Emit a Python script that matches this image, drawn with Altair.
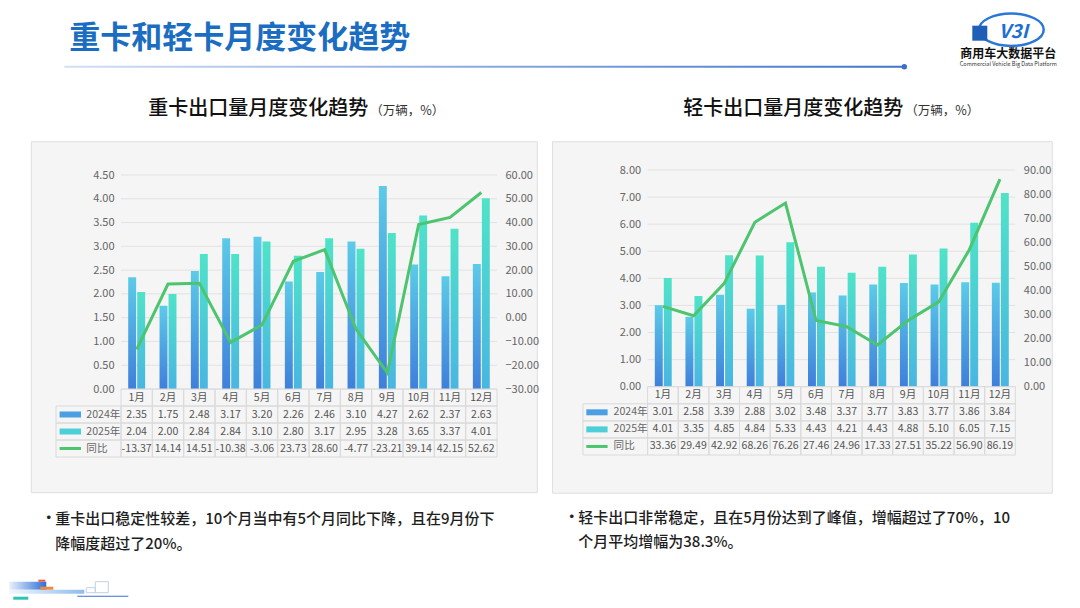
import altair as alt
import pandas as pd

FONT = "Noto Sans CJK SC"

# ---------------- data ----------------
months = ["1月", "2月", "3月", "4月", "5月", "6月", "7月", "8月", "9月", "10月", "11月", "12月"]

heavy_2024 = [2.35, 1.75, 2.48, 3.17, 3.20, 2.26, 2.46, 3.10, 4.27, 2.62, 2.37, 2.63]
heavy_2025 = [2.04, 2.00, 2.84, 2.84, 3.10, 2.80, 3.17, 2.95, 3.28, 3.65, 3.37, 4.01]
heavy_yoy = [-13.37, 14.14, 14.51, -10.38, -3.06, 23.73, 28.60, -4.77, -23.21, 39.14, 42.15, 52.62]

light_2024 = [3.01, 2.58, 3.39, 2.88, 3.02, 3.48, 3.37, 3.77, 3.83, 3.77, 3.86, 3.84]
light_2025 = [4.01, 3.35, 4.85, 4.84, 5.33, 4.43, 4.21, 4.43, 4.88, 5.10, 6.05, 7.15]
light_yoy = [33.36, 29.49, 42.92, 68.26, 76.26, 27.46, 24.96, 17.33, 27.51, 35.22, 56.90, 86.19]

heavy_left_ticks = [0, 0.5, 1.0, 1.5, 2.0, 2.5, 3.0, 3.5, 4.0, 4.5]
heavy_right_ticks = [-30, -20, -10, 0, 10, 20, 30, 40, 50, 60]
light_left_ticks = [0, 1, 2, 3, 4, 5, 6, 7, 8]
light_right_ticks = [0, 10, 20, 30, 40, 50, 60, 70, 80, 90]

row_keys = ["hdr", "y24", "y25", "yoy"]
row_labels = ["2024年", "2025年", "同比"]

main_title = "重卡和轻卡月度变化趋势"
heavy_title = "重卡出口量月度变化趋势"
light_title = "轻卡出口量月度变化趋势"
unit_text = "（万辆，%）"
heavy_note = ["重卡出口稳定性较差，10个月当中有5个月同比下降，且在9月份下", "降幅度超过了20%。"]
light_note = ["轻卡出口非常稳定，且在5月份达到了峰值，增幅超过了70%，10", "个月平均增幅为38.3%。"]

# ---------------- styling helpers ----------------
ONE = pd.DataFrame({"k": [0]})


def grad(c0, c1, horizontal=False):
    stops = [alt.GradientStop(color=c0, offset=0), alt.GradientStop(color=c1, offset=1)]
    if horizontal:
        return alt.LinearGradient(gradient="linear", stops=stops, x1=0, y1=0, x2=1, y2=0)
    return alt.LinearGradient(gradient="linear", stops=stops, x1=0, y1=1, x2=0, y2=0)


G24 = grad("#3f7fdb", "#5ccbe8")
G25 = grad("#49b6e2", "#4fe3c8")
LINE_COLOR = "#4dc46f"
TFS = 10.6  # table font size


def text_at(f, s, px, py, size, color, weight="normal", align="left", baseline="middle", style="normal", font=FONT):
    return alt.Chart(pd.DataFrame({"t": [s]})).mark_text(
        align=align, baseline=baseline, fontSize=size, color=color,
        font=font, fontWeight=weight, fontStyle=style
    ).encode(x=alt.value(px - f[0]), y=alt.value(py - f[1]), text="t:N")


def rect_at(f, px1, py1, px2, py2, **mk):
    return alt.Chart(ONE).mark_rect(**mk).encode(
        x=alt.value(px1 - f[0]), x2=alt.value(px2 - f[0]),
        y=alt.value(py1 - f[1]), y2=alt.value(py2 - f[1]))


def point_at(f, px, py, **mk):
    return alt.Chart(ONE).mark_point(**mk).encode(x=alt.value(px - f[0]), y=alt.value(py - f[1]))


def panel(f, W, H, yrng, ymax, lticks, rmin, rmax, rticks, trng, v24, v25, yoy,
          legend_x0, sw_x0, sw_x1, label_x, before, after):
    xsc = alt.Scale(type="band", domain=months, paddingInner=0, paddingOuter=0)
    x_band = alt.X("month:N", scale=xsc, axis=None)
    x_mid = alt.X("month:N", scale=xsc, axis=None, bandPosition=0.5)

    ysc = alt.Scale(domain=[0, ymax], range=yrng, nice=False, zero=False)
    y_left = alt.Y("value:Q", scale=ysc, axis=alt.Axis(
        orient="left", values=lticks, format=".2f", grid=False, domain=False, ticks=False,
        labelPadding=7, labelColor="#666666", labelFontSize=11, labelFont=FONT, title=None, zindex=2))

    grid = alt.Chart(pd.DataFrame({"value": lticks})).mark_rule(
        color="#e2e2e2", strokeWidth=1).encode(y=y_left, x=alt.value(0), x2=alt.value(W))

    bdf = pd.DataFrame({"month": months * 2, "year": ["2024"] * 12 + ["2025"] * 12, "value": v24 + v25})
    xoff = alt.XOffset("year:N", scale=alt.Scale(type="band", domain=["2024", "2025"],
                                                 paddingInner=0.12, paddingOuter=0.8))
    b24 = alt.Chart(bdf).transform_filter(alt.datum.year == "2024").mark_bar(fill=G24).encode(
        x=x_band, xOffset=xoff, y=y_left)
    b25 = alt.Chart(bdf).transform_filter(alt.datum.year == "2025").mark_bar(fill=G25).encode(
        x=x_band, xOffset=xoff, y=y_left)
    bars = alt.layer(grid, b24, b25)

    ldf = pd.DataFrame({"month": months, "yoy": yoy, "idx": list(range(12))})
    rsc = alt.Scale(domain=[rmin, rmax], range=yrng, nice=False, zero=False)
    line = alt.Chart(ldf).mark_line(color=LINE_COLOR, strokeWidth=3).encode(
        x=x_mid,
        y=alt.Y("yoy:Q", scale=rsc, axis=alt.Axis(
            orient="right", values=rticks, format=".2f", grid=False, domain=False, ticks=False,
            labelPadding=8, labelColor="#666666", labelFontSize=11, labelFont=FONT, title=None, zindex=2)),
        order=alt.Order("idx:Q"))

    recs = []
    for i, m in enumerate(months):
        recs.append({"month": m, "row": "hdr", "label": m})
        recs.append({"month": m, "row": "y24", "label": f"{v24[i]:.2f}"})
        recs.append({"month": m, "row": "y25", "label": f"{v25[i]:.2f}"})
        recs.append({"month": m, "row": "yoy", "label": f"{yoy[i]:.2f}"})
    tdf = pd.DataFrame(recs)
    rsc_rows = alt.Scale(type="band", domain=row_keys, range=trng, paddingInner=0, paddingOuter=0)
    y_row = alt.Y("row:N", scale=rsc_rows, axis=None)
    y_row_mid = alt.Y("row:N", scale=rsc_rows, axis=None, bandPosition=0.5)

    cells = alt.Chart(tdf).mark_rect(fill="#ffffff", fillOpacity=0, stroke="#dadada", strokeWidth=1).encode(
        x=x_band, y=y_row)
    ctext = alt.Chart(tdf).mark_text(fontSize=TFS, color="#555555", font=FONT, baseline="middle").encode(
        x=x_mid, y=y_row_mid, text="label:N")
    lab = pd.DataFrame({"row": row_keys[1:], "name": row_labels})
    lcells = alt.Chart(lab).mark_rect(fill="#ffffff", fillOpacity=0, stroke="#dadada", strokeWidth=1).encode(
        x=alt.value(legend_x0), x2=alt.value(0), y=y_row)
    ltext = alt.Chart(lab).mark_text(fontSize=TFS, color="#666666", font=FONT, align="left", baseline="middle").encode(
        x=alt.value(label_x), y=y_row_mid, text="name:N")
    sw24 = alt.Chart(lab).transform_filter(alt.datum.row == "y24").mark_rule(
        strokeWidth=6, color="#4b9fe2").encode(x=alt.value(sw_x0), x2=alt.value(sw_x1), y=y_row_mid)
    sw25 = alt.Chart(lab).transform_filter(alt.datum.row == "y25").mark_rule(
        strokeWidth=6, color="#4dcfd8").encode(x=alt.value(sw_x0), x2=alt.value(sw_x1), y=y_row_mid)
    swl = alt.Chart(lab).transform_filter(alt.datum.row == "yoy").mark_rule(
        strokeWidth=3, color=LINE_COLOR).encode(x=alt.value(sw_x0), x2=alt.value(sw_x1), y=y_row_mid)
    table = alt.layer(cells, lcells, ctext, ltext, sw24, sw25, swl)

    return alt.layer(*before, bars, line, table, *after).resolve_scale(y="independent").properties(
        width=W, height=H)


# ---------------- layout frames (page coordinates of plot origins) ----------------
LF = (120.7, 168.3)
RF = (647.3, 168.3)
H = 220

left_before = [
    rect_at(LF, 8, 8, 10, 10, fill="#ffffff"),
    text_at(LF, main_title, 69, 37, 31, "#1b6dc1", weight="bold"),
    rect_at(LF, 64, 64, 903, 66, fill=grad("#d3dff2", "#3f74cc", horizontal=True)),
    point_at(LF, 904, 65, filled=True, size=30, color="#3d6fc7", opacity=1),
    text_at(LF, heavy_title, 148, 107, 20, "#111111", weight=500),
    text_at(LF, unit_text, 370, 109, 12.5, "#333333"),
    rect_at(LF, 31, 140, 537, 491, fill="#f5f5f5", stroke="#dedede", strokeWidth=1),
]
left_after = [
    text_at(LF, "•", 40, 517, 17, "#222222"),
    text_at(LF, heavy_note[0], 55, 517, 15, "#1e1e1e", weight=500),
    text_at(LF, heavy_note[1], 55, 542, 15, "#1e1e1e", weight=500),
    # footer decoration (speed streaks + truck outline)
    rect_at(LF, 9, 580, 46, 588, fill=grad("#e8f0fb", "#2f6fd6", horizontal=True)),
    rect_at(LF, 9, 588, 84, 592, fill=grad("#f2f7fd", "#8fbcec", horizontal=True)),
    rect_at(LF, 38, 578, 45, 580, fill="#e85a3a"),
    rect_at(LF, 40, 585, 53, 588, fill="#f08a3e"),
    rect_at(LF, 13, 595, 28, 598, fill="#2cc5b5"),
    rect_at(LF, 77, 594, 128, 595, fill="#3a6fd0"),
    rect_at(LF, 95, 580, 108, 591, fill="#ffffff", fillOpacity=0, stroke="#c3d0e2", strokeWidth=1),
    rect_at(LF, 86, 586, 95, 591, fill="#ffffff", fillOpacity=0, stroke="#c3d0e2", strokeWidth=1),
]

right_before = [
    text_at(RF, light_title, 683, 107, 20, "#111111", weight=500),
    text_at(RF, unit_text, 905, 109, 12.5, "#333333"),
    # logo
    point_at(RF, 1011, 28, shape="M-1,0A1,0.5,0,1,1,1,0A1,0.5,0,1,1,-1,0Z", size=4200,
             filled=False, color="#2a78d6", strokeWidth=2.5, opacity=1),
    rect_at(RF, 972, 24, 987, 39, fill="#1f5fb8"),
    text_at(RF, "V3I", 1013, 30, 19, "#1e6fd0", weight="bold", align="center", style="italic"),
    text_at(RF, "商用车大数据平台", 1008, 52, 12, "#111111", weight="bold", align="center"),
    text_at(RF, "Commercial Vehicle Big Data Platform", 1008, 62.5, 5.5, "#333333", align="center"),
    rect_at(RF, 552.3, 140, 1052, 491.5, fill="#f5f5f5", stroke="#dedede", strokeWidth=1),
]
right_after = [
    text_at(RF, "•", 563, 516, 17, "#222222"),
    text_at(RF, light_note[0], 578, 516, 15, "#1e1e1e", weight=500),
    text_at(RF, light_note[1], 578, 540, 15, "#1e1e1e", weight=500),
]

left = panel(LF, 376, H, [219, 5], 4.5, heavy_left_ticks, -30, 60, heavy_right_ticks,
             [219, 287], heavy_2024, heavy_2025, heavy_yoy,
             -65, -61.4, -40, -34.7, left_before, left_after)
right = panel(RF, 367.7, H, [216.7, 0], 8, light_left_ticks, 0, 90, light_right_ticks,
              [216.7, 285], light_2024, light_2025, light_yoy,
              -64.6, -61.3, -40, -34, right_before, right_after)

chart = alt.hconcat(left, right, spacing=150.6, bounds="flush").properties(
    padding=0, background="#ffffff"
).configure_view(strokeWidth=0)

chart.save("out.html", embed_options={"renderer": "svg", "actions": False})
